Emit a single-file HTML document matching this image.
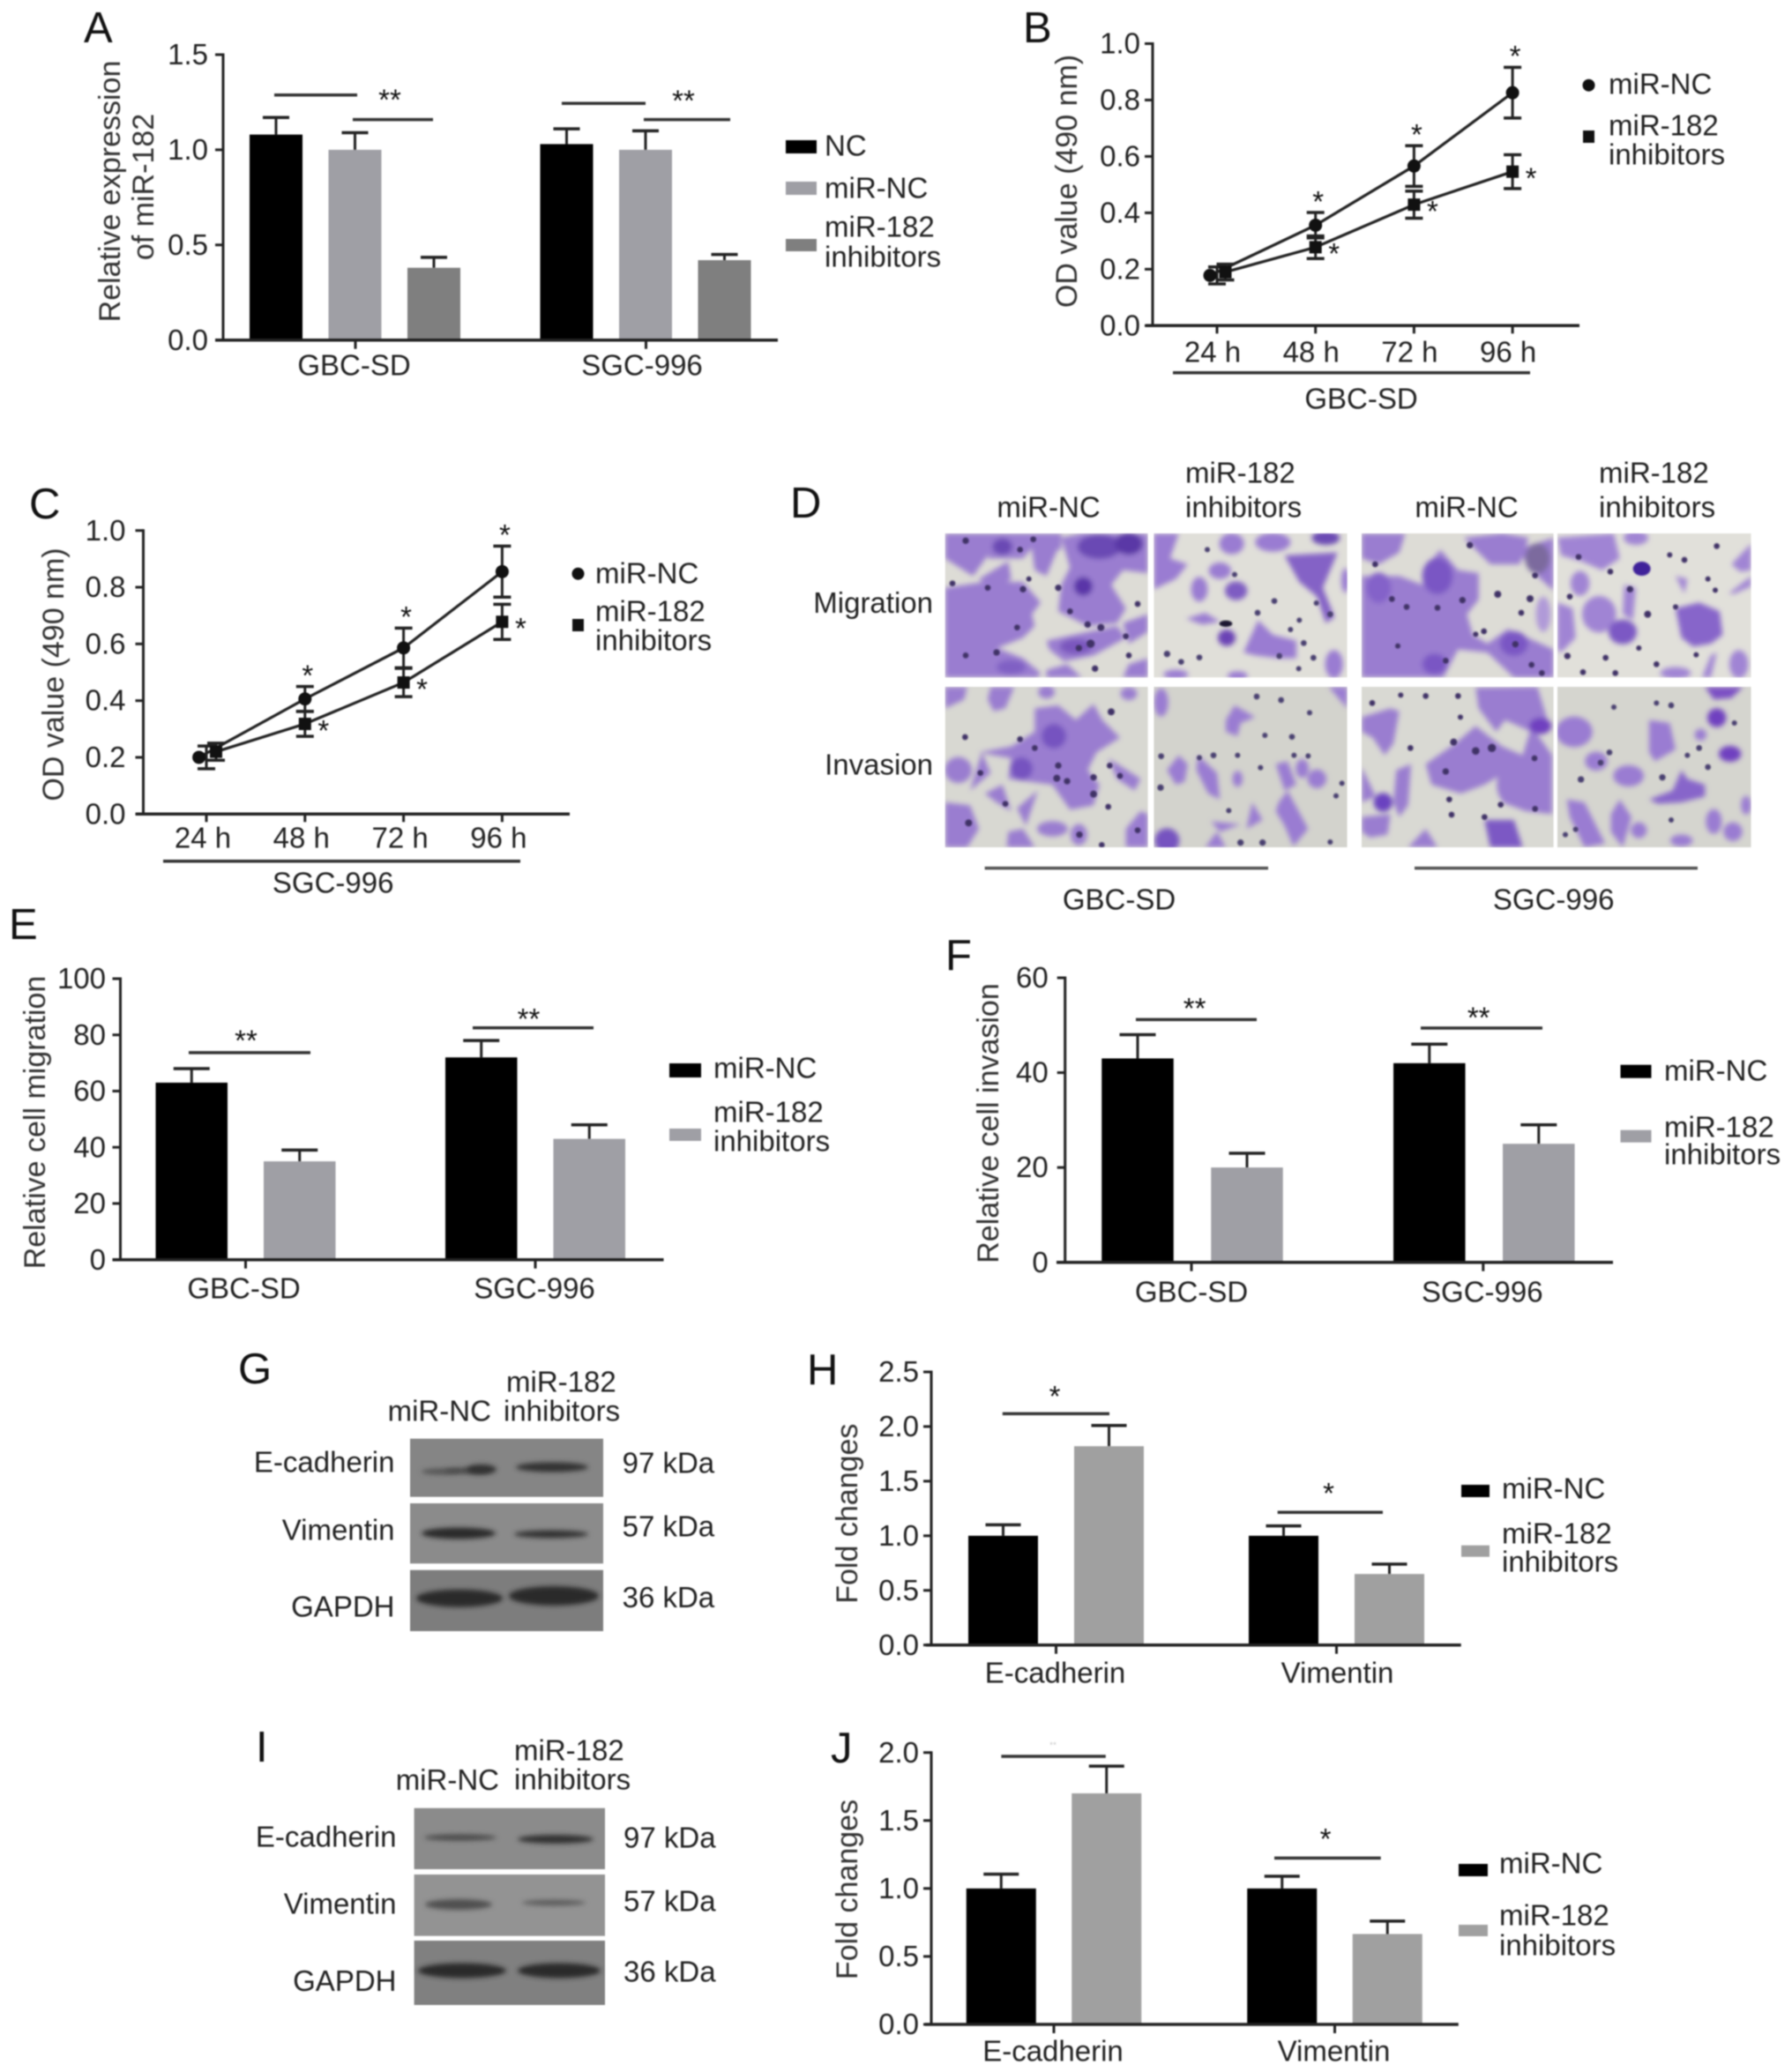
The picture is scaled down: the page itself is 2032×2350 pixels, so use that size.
<!DOCTYPE html>
<html lang="en">
<head>
<meta charset="utf-8">
<title>miR-182 inhibitor figure panels</title>
<style>
html,body{margin:0;padding:0;background:#fff;}
#figure{display:block;width:2032px;height:2350px;filter:blur(0.7px);font-family:"Liberation Sans",Arial,sans-serif;}
</style>
</head>
<body>
<svg id="figure" xmlns="http://www.w3.org/2000/svg" width="2032" height="2350" viewBox="0 0 2032 2350">
<defs>
<filter id="soft" x="-5%" y="-5%" width="110%" height="110%"><feGaussianBlur stdDeviation="9"/></filter>
<filter id="nuc" x="-5%" y="-5%" width="110%" height="110%"><feGaussianBlur stdDeviation="2.5"/></filter>
<filter id="band" x="-20%" y="-80%" width="140%" height="260%"><feGaussianBlur stdDeviation="2.6"/></filter>
<clipPath id="c1"><rect x="35" y="45" width="690" height="490"/></clipPath>
<clipPath id="c2"><rect x="745" y="45" width="658" height="490"/></clipPath>
<clipPath id="c3"><rect x="35" y="567" width="690" height="546"/></clipPath>
<clipPath id="c4"><rect x="745" y="567" width="658" height="546"/></clipPath>
<clipPath id="c5"><rect x="42" y="45" width="653" height="490"/></clipPath>
<clipPath id="c6"><rect x="708" y="45" width="659" height="490"/></clipPath>
<clipPath id="c7"><rect x="42" y="567" width="653" height="546"/></clipPath>
<clipPath id="c8"><rect x="708" y="567" width="659" height="546"/></clipPath>
</defs>

<g transform="translate(1060 590) scale(0.33333)">
<g clip-path="url(#c1)">
<rect x="35" y="45" width="690" height="490" fill="#dddcd6"/>
<g filter="url(#soft)" fill="#9a7dd0">
<polygon points="35,45 240,45 180,120 130,190 35,130"/>
<polygon points="200,45 430,45 430,100 330,95 300,130 180,130"/>
<polygon points="330,95 420,95 400,140 380,190 340,170"/>
<polygon points="430,60 500,45 725,45 725,180 640,170 600,220 650,300 620,350 520,360 420,310 430,220 460,160"/>
<polygon points="35,230 170,210 300,210 360,280 330,320 340,360 300,400 200,440 35,440"/>
<polygon points="380,410 520,380 620,360 650,400 540,460 440,480 390,440"/>
<polygon points="35,440 200,430 300,470 360,520 350,535 35,535"/>
<polygon points="660,490 725,470 725,535 640,535"/>
<polygon points="640,350 725,320 725,380 660,420"/>
<polygon points="150,200 250,140 260,200 200,240"/>
<polygon points="380,510 450,490 500,535 380,535"/>
<ellipse cx="505" cy="225" rx="32" ry="32" fill="#5a34a8"/>
<ellipse cx="560" cy="90" rx="75" ry="42" fill="#6a48b4"/>
<ellipse cx="660" cy="80" rx="48" ry="38" fill="#5a38a6"/>
<ellipse cx="230" cy="90" rx="34" ry="28" fill="#6a48b4"/>
<ellipse cx="480" cy="430" rx="55" ry="26" fill="#7a56bd"/>
<ellipse cx="260" cy="500" rx="50" ry="25" fill="#8060c4"/>
</g>
<g fill="#3f3366" filter="url(#nuc)"><circle cx="105" cy="70" r="11"/><circle cx="335" cy="65" r="10"/><circle cx="290" cy="100" r="10"/><circle cx="60" cy="215" r="10"/><circle cx="180" cy="230" r="10"/><circle cx="300" cy="235" r="11"/><circle cx="420" cy="230" r="11"/><circle cx="320" cy="200" r="9"/><circle cx="460" cy="310" r="10"/><circle cx="520" cy="355" r="11"/><circle cx="565" cy="365" r="12"/><circle cx="530" cy="420" r="14"/><circle cx="490" cy="435" r="11"/><circle cx="210" cy="450" r="11"/><circle cx="105" cy="460" r="10"/><circle cx="280" cy="365" r="10"/><circle cx="660" cy="460" r="10"/><circle cx="545" cy="505" r="11"/><circle cx="690" cy="285" r="10"/><circle cx="650" cy="395" r="10"/></g>
</g>
<g clip-path="url(#c2)">
<rect x="745" y="45" width="658" height="490" fill="#e0dfd9"/>
<g filter="url(#soft)" fill="#9a7cd2">
<polygon points="745,45 830,45 800,130 860,150 820,200 745,235"/>
<ellipse cx="1010" cy="80" rx="42" ry="36"/><ellipse cx="1150" cy="75" rx="60" ry="32"/><ellipse cx="1330" cy="60" rx="48" ry="24" fill="#6a48b4"/>
<ellipse cx="970" cy="172" rx="38" ry="28"/><ellipse cx="900" cy="235" rx="28" ry="42"/><ellipse cx="1025" cy="240" rx="38" ry="32" fill="#7e5cc2"/>
<polygon points="1190,120 1370,110 1320,230 1360,330 1330,350 1300,260 1240,210" fill="#8462c6"/>
<polygon points="855,335 920,315 970,345 910,355"/>
<ellipse cx="993" cy="400" rx="30" ry="28" fill="#6a42b5"/>
<polygon points="1050,450 1100,340 1150,390 1230,410 1230,470 1170,470 1090,460"/>
<ellipse cx="1358" cy="490" rx="30" ry="48"/><ellipse cx="820" cy="525" rx="42" ry="16"/><ellipse cx="1030" cy="530" rx="34" ry="16"/>
<ellipse cx="1397" cy="205" rx="14" ry="42"/>
</g>
<ellipse cx="990" cy="352" rx="22" ry="11" fill="#1e1830" filter="url(#nuc)"/>
<g fill="#4a3f70" filter="url(#nuc)"><circle cx="927" cy="100" r="9"/><circle cx="1020" cy="185" r="9"/><circle cx="1155" cy="275" r="10"/><circle cx="1098" cy="315" r="10"/><circle cx="1240" cy="340" r="9"/><circle cx="1298" cy="282" r="9"/><circle cx="790" cy="455" r="11"/><circle cx="900" cy="467" r="10"/><circle cx="838" cy="482" r="10"/><circle cx="1255" cy="418" r="10"/><circle cx="1288" cy="468" r="10"/><circle cx="1172" cy="462" r="10"/><circle cx="1345" cy="320" r="10"/><circle cx="1210" cy="372" r="9"/><circle cx="1238" cy="505" r="9"/></g>
</g>
<g clip-path="url(#c3)">
<rect x="35" y="567" width="690" height="546" fill="#d8d8d2"/>
<g filter="url(#soft)" fill="#9a7dd0">
<polygon points="35,567 110,567 100,610 35,640"/>
<polygon points="190,567 270,567 240,640 200,650 180,610"/>
<ellipse cx="380" cy="585" rx="28" ry="22"/><ellipse cx="660" cy="590" rx="28" ry="22"/>
<polygon points="340,640 420,630 480,680 540,625 570,680 630,740 550,790 520,850 560,900 540,970 460,985 400,900 250,880 260,810 150,790 260,770 340,720"/>
<ellipse cx="80" cy="850" rx="46" ry="44"/>
<polygon points="120,920 160,790 190,860"/>
<polygon points="170,930 230,900 260,990 210,960"/>
<polygon points="280,980 350,920 310,1040 290,1000"/>
<polygon points="35,960 120,970 150,1050 110,1113 35,1113"/>
<polygon points="250,1060 300,1050 340,1113 245,1113"/>
<ellipse cx="400" cy="1050" rx="52" ry="26"/><ellipse cx="490" cy="1070" rx="28" ry="36"/>
<polygon points="650,1050 700,990 725,1000 725,1113 650,1113"/>
<polygon points="590,810 700,880 680,920 620,880"/>
<ellipse cx="405" cy="735" rx="42" ry="42" fill="#7652c0"/>
<ellipse cx="295" cy="845" rx="38" ry="38" fill="#7652c0"/>
</g>
<g fill="#3f3366" filter="url(#nuc)"><circle cx="600" cy="652" r="12"/><circle cx="103" cy="738" r="10"/><circle cx="290" cy="745" r="10"/><circle cx="340" cy="775" r="10"/><circle cx="420" cy="835" r="11"/><circle cx="415" cy="878" r="12"/><circle cx="450" cy="888" r="11"/><circle cx="540" cy="875" r="11"/><circle cx="540" cy="932" r="12"/><circle cx="595" cy="835" r="10"/><circle cx="630" cy="870" r="10"/><circle cx="240" cy="965" r="10"/><circle cx="155" cy="860" r="10"/><circle cx="115" cy="1030" r="12"/><circle cx="492" cy="1070" r="11"/><circle cx="690" cy="1055" r="10"/><circle cx="590" cy="975" r="10"/><circle cx="568" cy="1105" r="10"/></g>
</g>
<g clip-path="url(#c4)">
<rect x="745" y="567" width="658" height="546" fill="#d3d3cd"/>
<g filter="url(#soft)" fill="#9a7cd2">
<ellipse cx="770" cy="620" rx="24" ry="48"/>
<polygon points="1340,567 1403,567 1403,640"/>
<polygon points="1020,630 1090,670 1040,690 1030,735 990,720 990,680"/>
<polygon points="830,800 860,830 850,890 820,900 790,850"/>
<polygon points="895,800 960,860 970,950 930,930 890,850"/>
<ellipse cx="1030" cy="880" rx="17" ry="27"/>
<polygon points="1160,830 1200,820 1230,900 1190,920"/>
<ellipse cx="1250" cy="845" rx="22" ry="32"/><ellipse cx="1300" cy="880" rx="32" ry="32"/>
<polygon points="1170,960 1200,920 1270,1050 1220,1110 1190,1040 1160,990"/>
<polygon points="1080,960 1115,1020 1060,1050"/>
<polygon points="940,1025 1040,1035 970,1060"/>
<polygon points="920,1113 960,1060 990,1113"/>
<ellipse cx="790" cy="1090" rx="42" ry="42" fill="#7652c0"/>
</g>
<g fill="#4a3f70" filter="url(#nuc)"><circle cx="1095" cy="600" r="10"/><circle cx="1178" cy="612" r="10"/><circle cx="1275" cy="655" r="9"/><circle cx="1123" cy="732" r="9"/><circle cx="1215" cy="737" r="10"/><circle cx="948" cy="800" r="10"/><circle cx="900" cy="808" r="9"/><circle cx="770" cy="803" r="10"/><circle cx="768" cy="910" r="11"/><circle cx="1030" cy="800" r="9"/><circle cx="1108" cy="842" r="9"/><circle cx="1222" cy="800" r="9"/><circle cx="1270" cy="802" r="9"/><circle cx="1365" cy="938" r="9"/><circle cx="1385" cy="895" r="9"/><circle cx="1000" cy="988" r="9"/><circle cx="1040" cy="1097" r="11"/><circle cx="1115" cy="1097" r="11"/><circle cx="1345" cy="1095" r="9"/></g>
</g>
</g>

<g transform="translate(1530 590) scale(0.33333)">
<g clip-path="url(#c5)">
<rect x="42" y="45" width="653" height="490" fill="#dddcd6"/>
<g filter="url(#soft)" fill="#9a7dd0">
<polygon points="42,45 190,45 170,110 100,150 42,130"/>
<polygon points="390,60 520,45 610,60 580,150 480,150"/>
<polygon points="570,100 695,60 695,240 640,190"/>
<polygon points="42,190 170,190 250,220 260,160 310,100 370,170 440,180 440,270 400,320 420,390 470,420 540,370 695,440 695,535 560,535 470,450 370,440 320,535 42,535"/>
<ellipse cx="300" cy="190" rx="52" ry="62" fill="#7a56c4"/>
<ellipse cx="560" cy="420" rx="48" ry="42" fill="#7a56c4"/>
<ellipse cx="290" cy="490" rx="42" ry="36" fill="#7a56c4"/>
<ellipse cx="100" cy="230" rx="42" ry="52" fill="#8462c9"/>
<ellipse cx="640" cy="130" rx="42" ry="52" fill="#7c6a9e"/>
<ellipse cx="660" cy="320" rx="25" ry="60" fill="#b09ad8"/>
</g>
<g fill="#3f3366" filter="url(#nuc)"><circle cx="410" cy="85" r="11"/><circle cx="88" cy="150" r="10"/><circle cx="505" cy="252" r="12"/><circle cx="615" cy="267" r="12"/><circle cx="585" cy="315" r="10"/><circle cx="195" cy="295" r="10"/><circle cx="300" cy="298" r="10"/><circle cx="145" cy="268" r="10"/><circle cx="385" cy="272" r="11"/><circle cx="458" cy="378" r="10"/><circle cx="430" cy="388" r="9"/><circle cx="565" cy="422" r="11"/><circle cx="620" cy="492" r="10"/><circle cx="328" cy="478" r="10"/><circle cx="632" cy="188" r="10"/><circle cx="165" cy="428" r="9"/><circle cx="655" cy="520" r="10"/></g>
</g>
<g clip-path="url(#c6)">
<rect x="708" y="45" width="659" height="490" fill="#e1e0da"/>
<g filter="url(#soft)" fill="#a084d4">
<polygon points="708,60 900,45 920,130 860,170 790,140 720,120"/>
<ellipse cx="785" cy="215" rx="32" ry="42"/><ellipse cx="850" cy="320" rx="58" ry="62"/><ellipse cx="930" cy="380" rx="48" ry="42" fill="#7c58c4"/>
<polygon points="935,220 975,230 965,340 930,320"/>
<polygon points="1110,300 1190,280 1260,310 1270,390 1230,420 1170,430 1130,400" fill="#8765ca"/>
<polygon points="1300,150 1367,80 1367,170 1330,175"/>
<polygon points="708,280 760,300 770,400 720,450 708,440"/>
<ellipse cx="1325" cy="490" rx="32" ry="48"/>
<polygon points="1200,535 1230,460 1250,450 1230,535"/>
<ellipse cx="1110" cy="520" rx="52" ry="20"/>
<polygon points="1290,250 1367,190 1367,225 1310,250"/>
<polygon points="1110,190 1150,200 1140,250"/>
<ellipse cx="975" cy="60" rx="42" ry="24"/>
</g>
<ellipse cx="995" cy="165" rx="30" ry="24" fill="#40249a" filter="url(#nuc)"/>
<g fill="#3f3366" filter="url(#nuc)"><circle cx="780" cy="125" r="10"/><circle cx="888" cy="175" r="10"/><circle cx="1140" cy="135" r="10"/><circle cx="1090" cy="118" r="9"/><circle cx="1250" cy="88" r="10"/><circle cx="955" cy="235" r="11"/><circle cx="1015" cy="320" r="12"/><circle cx="750" cy="260" r="10"/><circle cx="1220" cy="200" r="9"/><circle cx="1245" cy="238" r="9"/><circle cx="1110" cy="295" r="9"/><circle cx="742" cy="462" r="11"/><circle cx="872" cy="468" r="10"/><circle cx="795" cy="517" r="10"/><circle cx="905" cy="520" r="10"/><circle cx="1045" cy="490" r="10"/><circle cx="985" cy="435" r="9"/><circle cx="1180" cy="458" r="9"/></g>
</g>
<g clip-path="url(#c7)">
<rect x="42" y="567" width="653" height="546" fill="#d9d9d3"/>
<g filter="url(#soft)" fill="#9a7dd0">
<polygon points="42,670 140,640 170,650 150,760 120,800 80,740 42,720"/>
<polygon points="430,570 640,567 680,700 620,720 530,680 500,720 440,640"/>
<polygon points="260,830 360,760 430,700 520,770 590,800 620,700 690,800 690,1000 600,990 520,960 510,870 460,900 380,930 280,900"/>
<polygon points="160,850 210,830 200,970 170,1010 150,960"/>
<ellipse cx="115" cy="960" rx="32" ry="32" fill="#6a42c0"/>
<polygon points="42,1010 140,1000 130,1070 70,1080 42,1060"/>
<polygon points="200,1113 260,1050 300,1113"/>
<polygon points="460,1020 560,1020 590,1113 480,1113" fill="#7c58c4"/>
<polygon points="42,840 90,940 42,960"/>
<ellipse cx="650" cy="700" rx="38" ry="28" fill="#7040c0"/>
<ellipse cx="540" cy="900" rx="38" ry="62"/>
</g>
<g fill="#3f3366" filter="url(#nuc)"><circle cx="78" cy="622" r="10"/><circle cx="175" cy="595" r="9"/><circle cx="260" cy="598" r="10"/><circle cx="370" cy="598" r="10"/><circle cx="378" cy="670" r="9"/><circle cx="208" cy="775" r="10"/><circle cx="355" cy="755" r="12"/><circle cx="485" cy="775" r="14"/><circle cx="430" cy="785" r="13"/><circle cx="328" cy="855" r="11"/><circle cx="630" cy="810" r="10"/><circle cx="340" cy="950" r="10"/><circle cx="348" cy="1002" r="10"/><circle cx="515" cy="968" r="10"/><circle cx="632" cy="982" r="10"/><circle cx="460" cy="1010" r="10"/></g>
</g>
<g clip-path="url(#c8)">
<rect x="708" y="567" width="659" height="546" fill="#d5d5cf"/>
<g filter="url(#soft)" fill="#9a7cd2">
<polygon points="1210,567 1340,567 1300,605 1240,610" fill="#7c50c4"/>
<ellipse cx="1250" cy="672" rx="32" ry="32" fill="#7040c0"/>
<ellipse cx="765" cy="720" rx="62" ry="52"/><ellipse cx="840" cy="820" rx="38" ry="32"/><ellipse cx="950" cy="870" rx="52" ry="36"/>
<polygon points="1020,680 1090,690 1110,780 1040,820 1020,790"/>
<polygon points="1020,950 1100,920 1130,850 1150,880 1210,900 1210,940 1130,960 1050,965" fill="#8765ca"/>
<ellipse cx="1295" cy="795" rx="38" ry="27" fill="#7040c0"/>
<ellipse cx="1195" cy="730" rx="20" ry="20"/>
<polygon points="740,950 800,960 870,1100 800,1113 750,1010"/>
<polygon points="890,1000 920,950 960,1010 930,1113 890,1060"/>
<ellipse cx="985" cy="1055" rx="27" ry="27"/><ellipse cx="1240" cy="1025" rx="27" ry="42"/><ellipse cx="1305" cy="1060" rx="32" ry="32"/><ellipse cx="1350" cy="970" rx="17" ry="32"/><ellipse cx="1130" cy="1090" rx="38" ry="20"/>
</g>
<g fill="#4a3f70" filter="url(#nuc)"><circle cx="900" cy="636" r="9"/><circle cx="1095" cy="630" r="10"/><circle cx="1045" cy="622" r="9"/><circle cx="1310" cy="690" r="9"/><circle cx="1190" cy="775" r="10"/><circle cx="885" cy="790" r="10"/><circle cx="788" cy="882" r="11"/><circle cx="1150" cy="800" r="9"/><circle cx="1220" cy="840" r="10"/><circle cx="1065" cy="875" r="11"/><circle cx="855" cy="825" r="10"/><circle cx="770" cy="1052" r="9"/><circle cx="1095" cy="1020" r="9"/><circle cx="735" cy="1070" r="9"/></g>
</g>
</g>
</svg>

<script>
// ---------- Panel A data ----------
const aCategories = ['GBC-SD', 'SGC-996'];
const aNC = [1.08, 1.03];
const aMiRNC = [1.0, 1.0];
const aInhibitors = [0.38, 0.42];
const aNCErr = [0.09, 0.08];
const aMiRNCErr = [0.09, 0.10];
const aInhibitorsErr = [0.055, 0.03];
const aTicks = [0, 0.5, 1.0, 1.5];
const aTickLabels = ['0.0', '0.5', '1.0', '1.5'];

// ---------- Panel B data ----------
const bCategories = ['24 h', '48 h', '72 h', '96 h'];
const bMiRNC = [0.178, 0.356, 0.566, 0.826];
const bInhibitors = [0.19, 0.278, 0.429, 0.546];
const bMiRNCErr = [0.03, 0.045, 0.072, 0.09];
const bInhibitorsErr = [0.028, 0.04, 0.048, 0.06];
const bTicks = [0, 0.2, 0.4, 0.6, 0.8, 1.0];
const bTickLabels = ['0.0', '0.2', '0.4', '0.6', '0.8', '1.0'];

// ---------- Panel C data ----------
const cCategories = ['24 h', '48 h', '72 h', '96 h'];
const cMiRNC = [0.2, 0.406, 0.586, 0.855];
const cInhibitors = [0.22, 0.318, 0.464, 0.678];
const cMiRNCErr = [0.04, 0.044, 0.07, 0.09];
const cInhibitorsErr = [0.03, 0.044, 0.05, 0.062];
const cTicks = [0, 0.2, 0.4, 0.6, 0.8, 1.0];
const cTickLabels = ['0.0', '0.2', '0.4', '0.6', '0.8', '1.0'];

// ---------- Panel E data ----------
const eCategories = ['GBC-SD', 'SGC-996'];
const eMiRNC = [63, 72];
const eInhibitors = [35, 43];
const eMiRNCErr = [5, 6];
const eInhibitorsErr = [4, 5];
const eTicks = [0, 20, 40, 60, 80, 100];
const eTickLabels = ['0', '20', '40', '60', '80', '100'];

// ---------- Panel F data ----------
const fCategories = ['GBC-SD', 'SGC-996'];
const fMiRNC = [43, 42];
const fInhibitors = [20, 25];
const fMiRNCErr = [5, 4];
const fInhibitorsErr = [3, 4];
const fTicks = [0, 20, 40, 60];
const fTickLabels = ['0', '20', '40', '60'];

// ---------- Panel H data ----------
const hCategories = ['E-cadherin', 'Vimentin'];
const hMiRNC = [1.0, 1.0];
const hInhibitors = [1.82, 0.65];
const hMiRNCErr = [0.10, 0.09];
const hInhibitorsErr = [0.19, 0.09];
const hTicks = [0, 0.5, 1.0, 1.5, 2.0, 2.5];
const hTickLabels = ['0.0', '0.5', '1.0', '1.5', '2.0', '2.5'];

// ---------- Panel J data ----------
const jCategories = ['E-cadherin', 'Vimentin'];
const jMiRNC = [1.0, 1.0];
const jInhibitors = [1.7, 0.665];
const jMiRNCErr = [0.105, 0.09];
const jInhibitorsErr = [0.2, 0.095];
const jTicks = [0, 0.5, 1.0, 1.5, 2.0];
const jTickLabels = ['0.0', '0.5', '1.0', '1.5', '2.0'];

const NS = 'http://www.w3.org/2000/svg';
const root = document.getElementById('figure');
const INK = '#222';
const FS = 33;

function mk(tag, geom, parent) {
  const e = document.createElementNS(NS, tag);
  for (const k in geom) e.setAttribute(k, geom[k]);
  (parent || root).appendChild(e);
  return e;
}
function group(name) {
  const g = mk('g', {}, root);
  
  
  return g;
}
function label(parent, name, str, x, cy, anchor, size, fill) {
  const s = size || FS;
  const t = mk('text', {x: x, y: cy + 0.32 * s, 'text-anchor': anchor || 'middle', 'font-size': s, fill: fill || INK}, parent);
  t.textContent = str;
  
  
  return t;
}
function rule(parent, name, x1, y1, x2, y2, w, color) {
  const l = mk('line', {x1: x1, y1: y1, x2: x2, y2: y2, stroke: color || INK, 'stroke-width': w || 3}, parent);
  
  
  return l;
}
function swatch(parent, name, x, y, w, h, color) {
  const r = mk('rect', {x: x, y: y, width: w, height: h, fill: color}, parent);
  
  
  return r;
}
function panelLetter(str, x, baseline) {
  const t = mk('text', {x: x, y: baseline, 'font-size': 49, fill: '#111'}, root);
  t.textContent = str;
  
  
}
function yTitle(parent, lines) {
  lines.forEach(function (ln) {
    const t = mk('text', {'text-anchor': 'middle', 'font-size': 34, fill: '#333',
      transform: 'translate(' + ln.x + ' ' + ln.cy + ') rotate(-90)'}, parent);
    t.textContent = ln.text;
    
    
  });
}
function star(parent, str, x, cy, size, fill) {
  const s = size || FS;
  const t = mk('text', {x: x, y: cy + 0.48 * s, 'text-anchor': 'middle', 'font-size': s, fill: fill || '#111'}, parent);
  t.textContent = str;
  
  
}
function yAxis(g, scale, axisX, top, bottom, ticks, tickLabels, labelRight) {
  rule(g, 'y-axis-line', axisX, top - 1.5, axisX, bottom + 1.5, 3);
  ticks.forEach(function (v, i) {
    rule(g, 'y-tick', axisX - 9, scale(v), axisX, scale(v), 3);
    label(g, 'y-tick-label', tickLabels[i], labelRight, scale(v) + 0.5, 'end');
  });
}

// Grouped bar chart driven by its series arrays
function barChart(cfg) {
  const g = group(cfg.name);
  const scale = function (v) { return cfg.y0 - (v / cfg.yMax) * (cfg.y0 - cfg.yTop); };
  const cx = function (i) { return cfg.groupStart + i * cfg.groupStep; };
  const n = cfg.series.length;
  cfg.series.forEach(function (vals, s) {
    vals.forEach(function (v, i) {
      const x = cx(i) + (s - (n - 1) / 2) * cfg.barStep;
      const top = scale(v);
      const errTop = scale(v + cfg.errors[s][i]);
      rule(g, 'error-bar-stem', x, errTop, x, top, 3);
      rule(g, 'error-bar-cap', x - cfg.cap / 2, errTop, x + cfg.cap / 2, errTop, 3.5);
      const bar = mk('rect', {x: x - cfg.barWidth / 2, y: top, width: cfg.barWidth, height: cfg.y0 - top, fill: cfg.colors[s]}, g);
      
      
    });
  });
  yAxis(g, scale, cfg.axisX, cfg.yTop, cfg.y0, cfg.ticks, cfg.tickLabels, cfg.labelRight);
  rule(g, 'x-axis-line', cfg.xStart, cfg.y0, cfg.xEnd, cfg.y0, 3.5);
  cfg.categories.forEach(function (c, i) {
    rule(g, 'x-tick', cx(i) + cfg.tickShift, cfg.y0, cx(i) + cfg.tickShift, cfg.y0 + 10, 3);
    label(g, 'x-tick-label', c, cx(i) + cfg.labelShift[i], cfg.labelY);
  });
  cfg.sig.forEach(function (a) {
    rule(g, 'significance-line', a.x1, scale(a.level), a.x2, scale(a.level), 3.5, '#333');
    if (a.text) star(g, a.text, a.sx, scale(a.slevel), a.size, a.fill);
  });
  yTitle(g, cfg.title);
  return g;
}

// Two-series line chart driven by its series arrays
function lineChart(cfg) {
  const g = group(cfg.name);
  const scale = function (v) { return cfg.y0 - (v / cfg.yMax) * (cfg.y0 - cfg.yTop); };
  const tx = function (i) { return cfg.xFirst + i * cfg.xStep; };
  const markerX = function (i, dodge) { return tx(i) + (i === 0 ? dodge : 0); };
  yAxis(g, scale, cfg.axisX, cfg.yTop, cfg.y0, cfg.ticks, cfg.tickLabels, cfg.labelRight);
  rule(g, 'x-axis-line', cfg.xStart, cfg.y0, cfg.xEnd, cfg.y0, 3.5);
  cfg.categories.forEach(function (c, i) {
    rule(g, 'x-tick', tx(i), cfg.y0, tx(i), cfg.y0 + 9, 3);
    label(g, 'x-tick-label', c, tx(i) + cfg.labelShift, cfg.labelY);
  });
  [{v: cfg.nc, e: cfg.ncErr, d: cfg.ncDodge, kind: 'circle'}, {v: cfg.inh, e: cfg.inhErr, d: cfg.inhDodge, kind: 'square'}].forEach(function (sr, si) {
    const pts = sr.v.map(function (v, i) { return markerX(i, sr.d) + ',' + scale(v); }).join(' ');
    const pl = mk('polyline', {points: pts, fill: 'none', stroke: INK, 'stroke-width': 3.2}, g);
    
    
    sr.v.forEach(function (v, i) {
      const ex = si === 0 ? tx(i) : markerX(i, sr.d);
      const hi = scale(v + sr.e[i]);
      const lo = scale(v - sr.e[i]);
      rule(g, 'error-bar-stem', ex, hi, ex, lo, 3);
      rule(g, 'error-bar-cap', ex - 10, hi, ex + 10, hi, 3.5);
      rule(g, 'error-bar-cap', ex - 10, lo, ex + 10, lo, 3.5);
      const mx = markerX(i, sr.d);
      if (sr.kind === 'circle') {
        const p = mk('circle', {cx: mx, cy: scale(v), r: 7.5, fill: '#111'}, g);
        
        
        if (i > 0) star(g, '*', tx(i) + 3, hi - 17);
      } else {
        const p = mk('rect', {x: mx - 7, y: scale(v) - 7, width: 14, height: 14, fill: '#111'}, g);
        
        
        if (i > 0) star(g, '*', tx(i) + 21, scale(v) + 3);
      }
    });
  });
  yTitle(g, cfg.title);
  return g;
}

function legendBars(name, rows, texts) {
  const g = group(name);
  rows.forEach(function (r) { swatch(g, 'legend-swatch', r.x, r.y, r.w, r.h, r.c); });
  texts.forEach(function (t) { label(g, 'legend-entry', t.s, t.x, t.y, 'start'); });
}
function legendMarkers(name, cx, circleY, squareY, texts) {
  const g = group(name);
  const c = mk('circle', {cx: cx, cy: circleY, r: 7, fill: '#111'}, g);
  
  
  swatch(g, 'legend-square-marker', cx - 6.5, squareY - 7, 13, 14, '#111');
  texts.forEach(function (t) { label(g, 'legend-entry', t.s, t.x, t.y, 'start'); });
}

const BLACK = '#000', G1 = '#9f9fa5', G2 = '#7f7f7f', G3 = '#a0a0a0';

// Panel A
panelLetter('A', 95, 48);
barChart({name: 'chart-a-mir-182-expression', key: 'a', series: [aNC, aMiRNC, aInhibitors], errors: [aNCErr, aMiRNCErr, aInhibitorsErr],
  colors: [BLACK, G1, G2], categories: aCategories, ticks: aTicks, tickLabels: aTickLabels,
  y0: 385.7, yTop: 62, yMax: 1.5, axisX: 253, xStart: 244, xEnd: 882, labelRight: 236, labelY: 415,
  groupStart: 402.5, groupStep: 329.5, barStep: 89.5, barWidth: 60, cap: 30, tickShift: 0.5, labelShift: [-1, -4],
  sig: [{x1: 311, x2: 405, level: 1.288, text: '**', sx: 442, slevel: 1.284}, {x1: 400, x2: 491, level: 1.159},
        {x1: 637, x2: 732, level: 1.244, text: '**', sx: 775, slevel: 1.279}, {x1: 730, x2: 828, level: 1.159}],
  title: [{text: 'Relative expression', x: 136, cy: 217}, {text: 'of miR-182', x: 174, cy: 212}]});
legendBars('legend-a', [{x: 891, y: 159, w: 35, h: 15, c: BLACK}, {x: 891, y: 206, w: 35, h: 15, c: G1}, {x: 891, y: 271, w: 35, h: 14, c: G2}],
  [{s: 'NC', x: 935, y: 166}, {s: 'miR-NC', x: 935, y: 214}, {s: 'miR-182', x: 935, y: 258}, {s: 'inhibitors', x: 935, y: 292}]);

// Panel B
panelLetter('B', 1160, 48);
lineChart({name: 'chart-b-od-gbc-sd', categories: bCategories, nc: bMiRNC, inh: bInhibitors, ncErr: bMiRNCErr, inhErr: bInhibitorsErr,
  ticks: bTicks, tickLabels: bTickLabels, y0: 369.3, yTop: 49.5, yMax: 1.0, axisX: 1307, xStart: 1299, xEnd: 1791, labelRight: 1293, labelY: 400,
  xFirst: 1380, xStep: 111.7, labelShift: -5, ncDodge: -8, inhDodge: 9.5,
  title: [{text: 'OD value (490 nm)', x: 1221, cy: 205.5}]});
(function () {
  const g = group('chart-b-cell-line-label');
  rule(g, 'cell-line-underline', 1330, 422.7, 1735, 422.7, 3.5, '#333');
  label(g, 'cell-line-label', 'GBC-SD', 1543.5, 453);
})();
legendMarkers('legend-b', 1801.5, 96.7, 155, [{s: 'miR-NC', x: 1824, y: 96}, {s: 'miR-182', x: 1824, y: 143}, {s: 'inhibitors', x: 1824, y: 176}]);

// Panel C
panelLetter('C', 33, 588);
lineChart({name: 'chart-c-od-sgc-996', categories: cCategories, nc: cMiRNC, inh: cInhibitors, ncErr: cMiRNCErr, inhErr: cInhibitorsErr,
  ticks: cTicks, tickLabels: cTickLabels, y0: 923.3, yTop: 601.7, yMax: 1.0, axisX: 162.5, xStart: 154, xEnd: 646, labelRight: 142.5, labelY: 950.7,
  xFirst: 234, xStep: 111.8, labelShift: -4, ncDodge: -8.4, inhDodge: 11,
  title: [{text: 'OD value (490 nm)', x: 72, cy: 765}]});
(function () {
  const g = group('chart-c-cell-line-label');
  rule(g, 'cell-line-underline', 185, 976.7, 590, 976.7, 3.5, '#333');
  label(g, 'cell-line-label', 'SGC-996', 377.7, 1001.7);
})();
legendMarkers('legend-c', 655.5, 650.7, 709, [{s: 'miR-NC', x: 675, y: 650.7}, {s: 'miR-182', x: 675, y: 694}, {s: 'inhibitors', x: 675, y: 726.7}]);

// Panel D labels
panelLetter('D', 896, 587);
(function () {
  const g = group('panel-d-labels');
  label(g, 'column-label', 'miR-NC', 1189, 576);
  label(g, 'column-label', 'miR-182', 1344, 537, 'start');
  label(g, 'column-label', 'inhibitors', 1344, 576, 'start');
  label(g, 'column-label', 'miR-NC', 1663, 576);
  label(g, 'column-label', 'miR-182', 1813, 537, 'start');
  label(g, 'column-label', 'inhibitors', 1813, 576, 'start');
  label(g, 'row-label', 'Migration', 1058, 684.6, 'end');
  label(g, 'row-label', 'Invasion', 1058, 868, 'end');
  rule(g, 'cell-line-underline', 1116.6, 984.6, 1438, 984.6, 3.5, '#555');
  rule(g, 'cell-line-underline', 1604, 984.6, 1925, 984.6, 3.5, '#555');
  label(g, 'cell-line-label', 'GBC-SD', 1269, 1020.7);
  label(g, 'cell-line-label', 'SGC-996', 1761.7, 1020.7);
})();

// Panel E
panelLetter('E', 10, 1065);
barChart({name: 'chart-e-cell-migration', key: 'e', series: [eMiRNC, eInhibitors], errors: [eMiRNCErr, eInhibitorsErr],
  colors: [BLACK, G1], categories: eCategories, ticks: eTicks, tickLabels: eTickLabels,
  y0: 1428.7, yTop: 1110, yMax: 100, axisX: 136.5, xStart: 127.5, xEnd: 752.5, labelRight: 120, labelY: 1461.7,
  groupStart: 278.5, groupStep: 328.5, barStep: 122.5, barWidth: 81.5, cap: 41, tickShift: 0, labelShift: [-2, -1],
  sig: [{x1: 214, x2: 352, level: 73.7, text: '**', sx: 279, slevel: 79.4}, {x1: 536, x2: 673, level: 82.5, text: '**', sx: 599.5, slevel: 87.1}],
  title: [{text: 'Relative cell migration', x: 51, cy: 1273}]});
legendBars('legend-e', [{x: 759, y: 1206, w: 36, h: 16, c: BLACK}, {x: 759, y: 1280, w: 36, h: 14, c: G1}],
  [{s: 'miR-NC', x: 809, y: 1211.7}, {s: 'miR-182', x: 809, y: 1261.7}, {s: 'inhibitors', x: 809, y: 1295}]);

// Panel F
panelLetter('F', 1072, 1100);
barChart({name: 'chart-f-cell-invasion', key: 'f', series: [fMiRNC, fInhibitors], errors: [fMiRNCErr, fInhibitorsErr],
  colors: [BLACK, G1], categories: fCategories, ticks: fTicks, tickLabels: fTickLabels,
  y0: 1431.7, yTop: 1109, yMax: 60, axisX: 1207.7, xStart: 1198, xEnd: 1829, labelRight: 1188.7, labelY: 1465.7,
  groupStart: 1352, groupStep: 330.8, barStep: 124, barWidth: 81.5, cap: 41, tickShift: -1, labelShift: [-1, -2],
  sig: [{x1: 1288, x2: 1425, level: 51.2, text: '**', sx: 1354.6, slevel: 54.4}, {x1: 1611, x2: 1749, level: 49.4, text: '**', sx: 1676.7, slevel: 52.4}],
  title: [{text: 'Relative cell invasion', x: 1132, cy: 1274}]});
legendBars('legend-f', [{x: 1837.5, y: 1207.7, w: 35, h: 15, c: BLACK}, {x: 1837.5, y: 1281.7, w: 35, h: 14, c: G1}],
  [{s: 'miR-NC', x: 1887, y: 1215}, {s: 'miR-182', x: 1887, y: 1279}, {s: 'inhibitors', x: 1887, y: 1310}]);

// Western blots
function blot(name, x, w, rows, bands) {
  const g = group(name);
  rows.forEach(function (r) { swatch(g, 'blot-strip', x, r.y, w, r.h, r.c); });
  bands.forEach(function (b) {
    const e = mk('ellipse', {cx: b.cx, cy: b.cy, rx: b.rx, ry: b.ry, fill: b.c, filter: 'url(#band)'}, g);
    
    
  });
  return g;
}
function blotLabels(name, nameRight, kdaLeft, rows, kda, nc, inh) {
  const g = group(name);
  rows.forEach(function (r) { label(g, 'protein-label', r.s, nameRight, r.y, 'end'); });
  kda.forEach(function (r) { label(g, 'molecular-weight-label', r.s, kdaLeft, r.y, 'start'); });
  label(g, 'lane-label', 'miR-NC', nc.x, nc.y, 'start');
  label(g, 'lane-label', 'miR-182', inh.x1, inh.y1, 'start');
  label(g, 'lane-label', 'inhibitors', inh.x2, inh.y2, 'start');
}

panelLetter('G', 270, 1569);
blot('western-blot-g', 465, 219,
  [{y: 1631.7, h: 66, c: '#858585'}, {y: 1705, h: 68.3, c: '#8b8b8b'}, {y: 1780.7, h: 69.3, c: '#7d7d7d'}],
  [{cx: 500, cy: 1669, rx: 22, ry: 3.5, c: '#555'}, {cx: 530, cy: 1668, rx: 26, ry: 3.5, c: '#4a4a4a'}, {cx: 546, cy: 1666.5, rx: 17, ry: 5.5, c: '#333'},
   {cx: 626, cy: 1664, rx: 41, ry: 5.5, c: '#333'},
   {cx: 520, cy: 1739, rx: 42, ry: 6.5, c: '#2c2c2c'}, {cx: 625, cy: 1740, rx: 42, ry: 4.5, c: '#333'},
   {cx: 521, cy: 1812.7, rx: 49, ry: 10, c: '#2a2a2a'}, {cx: 628, cy: 1810, rx: 51, ry: 11, c: '#2a2a2a'}]);
blotLabels('western-blot-g-labels', 447.5, 705.6,
  [{s: 'E-cadherin', y: 1659}, {s: 'Vimentin', y: 1736}, {s: 'GAPDH', y: 1822.7}],
  [{s: '97 kDa', y: 1660}, {s: '57 kDa', y: 1731.7}, {s: '36 kDa', y: 1812.3}],
  {x: 439.6, y: 1601}, {x1: 574, y1: 1567.7, x2: 571, y2: 1601});

panelLetter('I', 290, 1998);
blot('western-blot-i', 469.6, 216.4,
  [{y: 2050.7, h: 69.3, c: '#8b8b8b'}, {y: 2126, h: 69.7, c: '#939393'}, {y: 2201, h: 73, c: '#808080'}],
  [{cx: 522, cy: 2084, rx: 41, ry: 3.5, c: '#4a4a4a'}, {cx: 630, cy: 2086, rx: 43, ry: 5, c: '#333'},
   {cx: 520, cy: 2160, rx: 38, ry: 6, c: '#505050'}, {cx: 628, cy: 2158, rx: 36, ry: 3.2, c: '#5a5a5a'},
   {cx: 524, cy: 2235, rx: 50, ry: 8.5, c: '#2a2a2a'}, {cx: 634, cy: 2235, rx: 47, ry: 8.5, c: '#2a2a2a'}]);
blotLabels('western-blot-i-labels', 449.5, 707,
  [{s: 'E-cadherin', y: 2084}, {s: 'Vimentin', y: 2160}, {s: 'GAPDH', y: 2247.3}],
  [{s: '97 kDa', y: 2085}, {s: '57 kDa', y: 2157}, {s: '36 kDa', y: 2237}],
  {x: 448.7, y: 2019.3}, {x1: 583, y1: 1986, x2: 583, y2: 2019});

// Panel H
panelLetter('H', 915, 1570);
barChart({name: 'chart-h-fold-changes', key: 'h', series: [hMiRNC, hInhibitors], errors: [hMiRNCErr, hInhibitorsErr],
  colors: [BLACK, G3], categories: hCategories, ticks: hTicks, tickLabels: hTickLabels,
  y0: 1865.7, yTop: 1556, yMax: 2.5, axisX: 1056, xStart: 1050, xEnd: 1656.7, labelRight: 1042, labelY: 1898,
  groupStart: 1197.5, groupStep: 318, barStep: 120, barWidth: 79, cap: 40, tickShift: 0, labelShift: [-1, 1],
  sig: [{x1: 1136.8, x2: 1258, level: 2.118, text: '*', sx: 1196, slevel: 2.314}, {x1: 1448.7, x2: 1568, level: 1.214, text: '*', sx: 1506.5, slevel: 1.426}],
  title: [{text: 'Fold changes', x: 972, cy: 1716.7}]});
legendBars('legend-h', [{x: 1657, y: 1684, w: 32, h: 14, c: BLACK}, {x: 1657, y: 1752.7, w: 32, h: 13, c: G3}],
  [{s: 'miR-NC', x: 1703, y: 1689}, {s: 'miR-182', x: 1703, y: 1740}, {s: 'inhibitors', x: 1703, y: 1772}]);

// Panel J
panelLetter('J', 942, 1999);
barChart({name: 'chart-j-fold-changes', key: 'j', series: [jMiRNC, jInhibitors], errors: [jMiRNCErr, jInhibitorsErr],
  colors: [BLACK, G3], categories: jCategories, ticks: jTicks, tickLabels: jTickLabels,
  y0: 2296, yTop: 1987.7, yMax: 2.0, axisX: 1056, xStart: 1048.7, xEnd: 1653.8, labelRight: 1042, labelY: 2327,
  groupStart: 1195, groupStep: 318.5, barStep: 119.5, barWidth: 79, cap: 40, tickShift: 0, labelShift: [-1, -1],
  sig: [{x1: 1135.4, x2: 1253.8, level: 1.972, text: '**', sx: 1194, slevel: 2.065, size: 10, fill: '#ccc'}, {x1: 1445, x2: 1565.7, level: 1.224, text: '*', sx: 1503, slevel: 1.395}],
  title: [{text: 'Fold changes', x: 972, cy: 2143}]});
legendBars('legend-j', [{x: 1654, y: 2114, w: 33, h: 14, c: BLACK}, {x: 1654, y: 2183, w: 33, h: 13, c: G3}],
  [{s: 'miR-NC', x: 1700, y: 2114}, {s: 'miR-182', x: 1700, y: 2173}, {s: 'inhibitors', x: 1700, y: 2206.7}]);
</script>
</body>
</html>
